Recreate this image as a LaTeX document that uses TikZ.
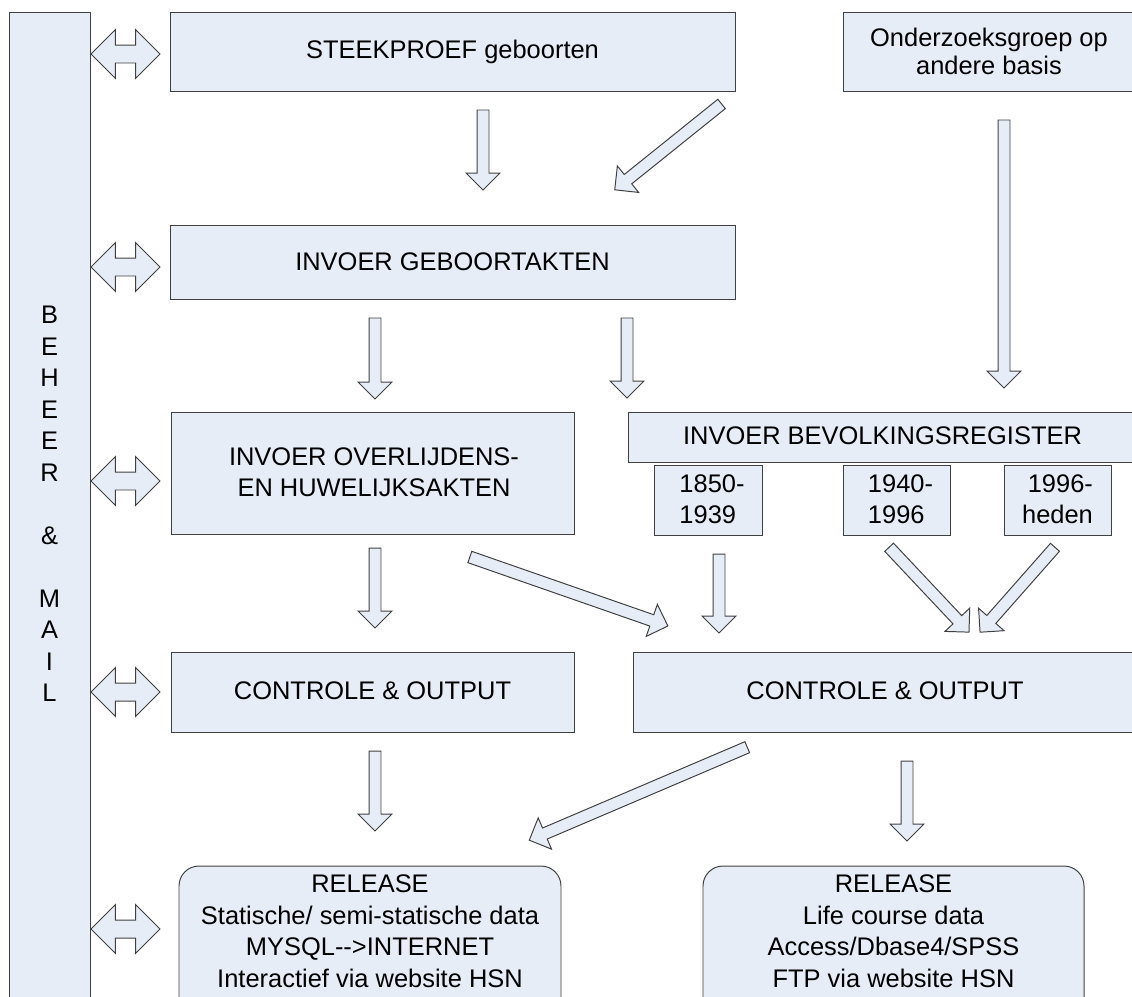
\documentclass[tikz,border=0pt]{standalone}
\usepackage{fontspec}
\setmainfont{Liberation Sans}
\usetikzlibrary{calc,shapes.arrows}

\definecolor{boxfill}{RGB}{231,237,247}
\definecolor{boxline}{RGB}{64,64,64}

\tikzset{
  box/.style={draw=boxline, fill=boxfill, line width=0.7pt},
  lbl/.style={align=center, inner sep=0pt, font=\fontsize{18.1}{22.4}\selectfont},
  barrow/.style={single arrow, draw=boxline, fill=boxfill, line width=0.7pt,
    inner xsep=0pt, inner ysep=0.1375cm, minimum width=0pt,
    single arrow head extend=0.275cm, single arrow tip angle=90,
    single arrow head indent=0pt},
  darrow/.style={double arrow, draw=boxline, fill=boxfill, line width=0.7pt,
    inner xsep=0pt, inner ysep=0.2125cm, minimum width=0pt, minimum height=1.725cm,
    double arrow head extend=0.3875cm, double arrow tip angle=90,
    double arrow head indent=0pt},
}

% block arrow from one named coordinate to another
\newcommand{\flowarrow}[2]{%
  \path let \p1=($(#2)-(#1)$), \n1={veclen(\x1,\y1)} in
    (#1) -- (#2) node[barrow, midway, sloped, allow upside down, minimum height=\n1] {};%
}

\begin{document}
\begin{tikzpicture}[x=0.025cm, y=-0.025cm]
  \clip (0,0) rectangle (1132,996); % picture frame
  % beheer & mail column
  \draw[box] (9,12) rectangle (90,1020);
  \node[lbl] (beheer) at (49.5,504) {B\\E\\H\\E\\E\\R\\~\\\&\\~\\M\\A\\I\\L};
  % top row
  \draw[box] (170,12) rectangle (735,91);
  \node[lbl] (steek) at (452.5,51.5) {STEEKPROEF geboorten};
  \draw[box] (843,12) rectangle (1140,91);
  \node[lbl, font=\fontsize{18.1}{19.6}\selectfont] (onderz) at (989,51.5) {Onderzoeksgroep op\\andere basis};
  % invoer
  \draw[box] (170,225) rectangle (735,299);
  \node[lbl] (geboort) at (452.5,262) {INVOER GEBOORTAKTEN};
  \draw[box] (171,412) rectangle (574,534);
  \node[lbl] (overl) at (374,472) {INVOER OVERLIJDENS-\\EN HUWELIJKSAKTEN};
  \draw[box] (628,412) rectangle (1140,462);
  \node[lbl] (bev) at (882.5,436) {INVOER BEVOLKINGSREGISTER};
  \draw[box] (654,465) rectangle (762,535); % periods
  \node[lbl, align=left] (p1850) at (712,499) {1850-\\1939};
  \draw[box] (843,465) rectangle (950,535);
  \node[lbl, align=left] (p1940) at (900.5,499) {1940-\\1996};
  \draw[box] (1004,465) rectangle (1111,535);
  \node[lbl, align=right] (p1996) at (1057.5,499) {1996-\\heden};
  % controle
  \draw[box] (171,652) rectangle (574,732);
  \node[lbl] (contrl) at (372.5,691) {CONTROLE \& OUTPUT};
  \draw[box] (633,652) rectangle (1140,732);
  \node[lbl] (contrr) at (885,691) {CONTROLE \& OUTPUT};
  % release
  \draw[box, rounded corners=0.5cm] (179,866) rectangle (561,1030);
  \node[lbl] (rell) at (370,931) {RELEASE\\Statische/ semi-statische data\\MYSQL-{}->INTERNET\\Interactief via website HSN};
  \draw[box, rounded corners=0.5cm] (703,866) rectangle (1084,1030);
  \node[lbl] (relr) at (893.5,931) {RELEASE\\Life course data\\Access/Dbase4/SPSS\\FTP via website HSN};
  % links with the column
  \foreach \y [count=\i] in {54,267,481,692,929} {
    \coordinate (bl\i) at (91,\y);
    \coordinate (br\i) at (160,\y);
    \path (bl\i) -- (br\i) node[darrow, midway] (link\i) {};
  }
  % arrows between the blocks
  \coordinate (st1) at (483,107);   \coordinate (en1) at (483,187);
  \coordinate (st2) at (724,102);   \coordinate (en2) at (617,188);
  \coordinate (st3) at (1004,117);  \coordinate (en3) at (1004,385);
  \coordinate (st4) at (375,315);   \coordinate (en4) at (375,396);
  \coordinate (st5) at (627,315);   \coordinate (en5) at (627,395);
  \coordinate (st6) at (375,545);   \coordinate (en6) at (375,625);
  \coordinate (st7) at (467,556);   \coordinate (en7) at (665,625);
  \coordinate (st8) at (719,551);   \coordinate (en8) at (719,630);
  \coordinate (st9) at (887,545);   \coordinate (en9) at (967,630);
  \coordinate (st10) at (1057,545); \coordinate (en10) at (982,630);
  \coordinate (st11) at (375,748);  \coordinate (en11) at (375,828);
  \coordinate (st12) at (750,746);  \coordinate (en12) at (532,839);
  \coordinate (st13) at (907,758);  \coordinate (en13) at (907,838);
  \foreach \i in {1,...,13} {\flowarrow{st\i}{en\i}}
\end{tikzpicture}
\end{document}
